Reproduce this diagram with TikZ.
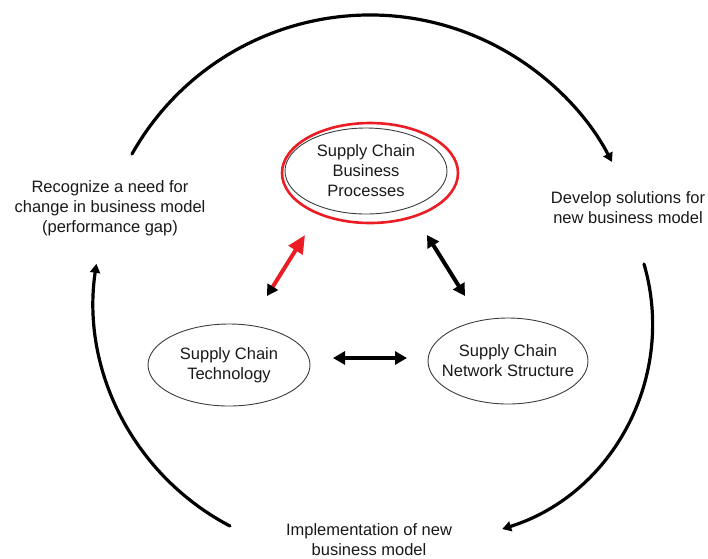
\documentclass[tikz,border=0pt]{standalone}
\usepackage{fontspec}
\setmainfont{Liberation Sans}
\usetikzlibrary{shapes.geometric,arrows.meta}
\definecolor{scred}{RGB}{236,28,36}
\definecolor{ringgray}{RGB}{60,60,60}
\begin{document}
\begin{tikzpicture}[x=1pt,y=-1pt,
  txt/.style={font=\fontsize{16.5}{20}\selectfont, align=center, inner sep=0pt, text=black!90},
  ell/.style={ellipse, draw=ringgray, line width=0.9pt, inner sep=0pt},
  cyc/.style={line width=3.2pt, line cap=round, -{Triangle[length=9pt,width=10pt]}},
  dbl/.style={line width=4pt, {Triangle[length=12pt,width=13pt]}-{Triangle[length=12pt,width=13pt]}},
  redarr/.style={line width=4pt, scred,
     {Triangle[length=11pt,width=12pt,color=black]}-{Triangle[length=18pt,width=16pt]}}
]
\useasboundingbox (0,0) rectangle (708,558);

% central ellipses
\node[draw=scred, ellipse, line width=2.6pt, minimum width=176pt, minimum height=100pt, inner sep=0pt] (bpo) at (370,173) {};
\node[ell, minimum width=162pt, minimum height=86pt] (bp) at (366,171) {};
\node[ell, minimum width=162pt, minimum height=82pt] (tech) at (229,365) {};
\node[ell, minimum width=160pt, minimum height=86pt] (net) at (508,361) {};
\node[txt] (bpt) at (bp.center) {Supply Chain\\Business\\Processes};
\node[txt] (techt) at (tech.center) {Supply Chain\\Technology};
\node[txt] (nett) at (net.center) {Supply Chain\\Network Structure};

% cycle texts
\node[txt] (recog) at (110,208) {Recognize a need for\\change in business model\\(performance gap)};
\node[txt] (devel) at (628,208) {Develop solutions for\\new business model};
\node[txt] (impl) at (369,540) {Implementation of new\\business model};

% cycle arrows
\coordinate (t1) at (132,154);
\coordinate (s1) at (644,264);
\coordinate (l1) at (230,526);
\draw[cyc] (t1) arc[start angle=150.6, end angle=27.5, radius=273pt];
\draw[cyc] (s1) arc[start angle=16.2, end angle=-72.5, radius=215pt];
\draw[cyc] (l1) arc[start angle=242.4, end angle=171.6, radius=254pt];

% relation arrows
\coordinate (h1) at (333,358);
\coordinate (h2) at (407,358);
\coordinate (r1) at (267,296);
\coordinate (r2) at (305,235);
\coordinate (b1) at (427,235);
\coordinate (b2) at (465,296);
\draw[dbl] (h1) -- (h2);
\draw[dbl] (b1) -- (b2);
\draw[redarr] (r1) -- (r2);
\end{tikzpicture}
\end{document}
